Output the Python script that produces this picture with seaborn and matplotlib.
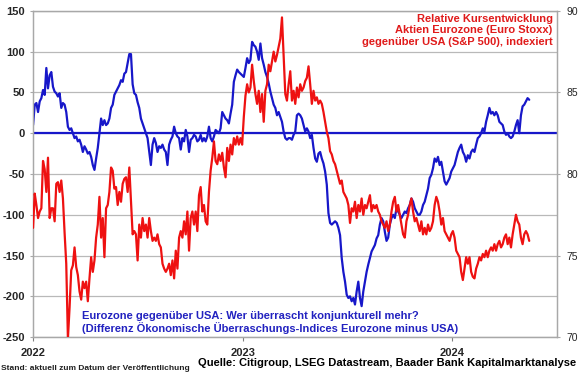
import numpy as np
import pandas as pd
import matplotlib
matplotlib.use("Agg")
import matplotlib.pyplot as plt
import seaborn as sns

sns.set_theme(style="white")
plt.rcParams["font.family"] = ["Liberation Sans", "DejaVu Sans"]

# ---------------- data ----------------
start_date = "2022-01-01"
end_date = "2024-05-14"

# Economic surprise index difference Eurozone minus USA (left axis)
surprise_diff = [
    10, 35, 37, 26, 39, 43, 53, 47, 80, 55,
    71, 75, 57, 51, 49, 45, 49, 31, 37, 35,
    26, 8, 4, 6, 0, -6, -4, -10, -8, -14,
    -23, -16, -20, -25, -23, -29, -39, -45, -31, -18,
    0, 18, 10, 16, 10, 12, 18, 31, 35, 47,
    51, 55, 59, 65, 63, 73, 75, 86, 97, 97,
    60, 49, 47, 38, 31, 18, 12, 6, 0, -6,
    -23, -39, -14, -6, -12, -23, -16,
    -18, -14, -20, -23, -39, -14, -8, -4, 8, 0,
    -4, -6, -20, -6, -10, 4, -4, -23, -8, -6,
    -2, -4, -10, -8, -2, -10, -6, -10, -4, 8,
    -6, -10, -4, 4, 2, 0, 6, 26, 22, 18,
    16, 12, 24, 35, 63, 71, 78, 75, 73, 71,
    69, 80, 92, 86, 90, 112, 108, 106, 100, 90,
    110, 92, 84, 75, 69, 61, 51, 43, 35, 31,
    22, 26, 20, 14, 2, -6, -8, -6,
    -6, -8, -2, 2, 22, 24, 22, 18, 10, 2,
    6, 2, -6, -2, -18, -31, -35, -25, -23, -31,
    -37, -47, -63, -98, -110, -112, -110, -108, -110, -116,
    -125, -153, -170, -182, -198, -202, -200, -206, -202, -210,
    -194, -182, -202, -212, -194, -182, -170, -161, -153, -145,
    -141, -137, -129, -125, -112, -104, -108, -121, -132, -128,
    -112, -104, -100, -104, -92, -96, -100, -104, -100, -96,
    -98, -92, -88, -80, -84, -92, -96, -100,
    -100, -96, -88, -84, -76, -68, -55, -51, -43, -31,
    -35, -29, -39, -35, -47, -59, -63, -59, -55, -47,
    -43, -39, -31, -23, -18, -14, -23, -27, -35, -27,
    -31, -23, -20, -23, -14, -6, -4, 0, 6, 2,
    14, 22, 31, 24, 26, 22, 26, 22, 14, 12,
    10, 2, -2, 0, -4, -6, -4, 2, 10, 16,
    0, 22, 33, 35, 39, 43, 41,
]

# Relative performance Euro Stoxx vs S&P 500, indexed (right axis)
rel_perf = [
    76.7, 78.8, 78.1, 77.3, 77.7, 77.9, 80.8, 80.3, 78.9, 81.0,
    77.3, 77.9, 77.9, 77.1, 79.4, 79.5, 78.9, 79.6, 78.5, 76.4,
    74.5, 69.9, 71.8, 74.1, 74.4, 75.5, 74.3, 73.8, 72.8, 72.3,
    73.4, 73.0, 73.4, 72.2, 73.6, 74.9, 74.0, 74.7, 76.1, 76.9,
    78.6, 76.1, 77.3, 74.9, 77.9, 78.1, 78.9, 80.4, 80.2, 79.1,
    79.2, 78.1, 78.9, 78.3, 79.4, 79.7, 79.8, 78.9, 80.4, 78.3,
    76.3, 76.5, 76.3, 74.7, 76.9, 76.1, 77.3, 76.5, 76.9, 76.1,
    77.3, 76.5, 75.9, 76.1, 75.9, 76.3, 75.7,
    75.5, 74.5, 74.2, 74.0, 74.2, 74.5, 73.8, 74.7, 73.6, 75.3,
    74.2, 76.1, 76.5, 76.1, 77.1, 76.3, 77.7, 75.3, 77.3, 77.7,
    76.9, 77.7, 76.5, 78.7, 79.2, 77.7, 78.1, 77.1, 76.9, 78.9,
    80.2, 81.0, 82.0, 80.8, 80.6, 81.2, 80.8, 81.3, 80.4, 79.8,
    81.6, 80.8, 81.8, 81.2, 82.2, 81.8, 82.3, 81.8, 82.2, 81.8,
    83.5, 84.8, 85.5, 85.0, 85.3, 86.7, 85.7, 84.9, 84.3, 85.1,
    83.8, 84.9, 83.2, 85.1, 85.5, 86.7, 86.3, 86.9, 87.5, 86.9,
    87.3, 87.8, 88.3, 89.6, 87.3, 84.9, 84.5, 85.5,
    86.3, 84.5, 85.1, 84.3, 85.3, 84.7, 85.5, 85.1, 85.3, 85.7,
    85.9, 86.6, 85.5, 84.3, 85.1, 84.5, 84.7, 84.3, 84.5, 84.3,
    83.8, 83.2, 82.6, 82.2, 81.4, 81.2, 80.8, 80.6, 80.2, 79.8,
    79.4, 79.6, 78.9, 78.7, 78.5, 78.1, 77.0, 77.9, 77.7, 78.3,
    77.3, 78.1, 77.7, 78.5, 77.5, 78.1, 77.9, 78.3, 78.7, 77.7,
    78.1, 77.9, 78.1, 77.7, 77.5, 77.1, 76.9, 76.7, 77.1, 76.5,
    76.9, 77.7, 78.3, 78.6, 77.7, 78.1, 77.5, 76.9, 76.3, 76.1,
    77.1, 77.5, 78.1, 78.5, 77.7, 77.1, 77.3, 76.9,
    76.5, 77.1, 76.3, 76.7, 76.3, 76.9, 76.5, 76.7, 77.1, 78.1,
    78.6, 78.3, 77.7, 76.9, 77.3, 76.5, 76.3, 76.1, 75.9, 76.3,
    76.5, 76.1, 75.3, 75.1, 74.9, 74.0, 73.5, 74.2, 74.9, 74.5,
    74.9, 74.0, 73.7, 73.6, 74.2, 74.5, 74.9, 74.7, 75.1, 74.9,
    75.3, 74.9, 75.3, 75.5, 75.3, 75.7, 75.3, 75.7, 75.9, 75.5,
    75.7, 76.1, 76.3, 75.7, 76.1, 75.5, 76.3, 76.9, 77.5, 77.1,
    76.9, 76.1, 75.7, 76.3, 76.5, 76.3, 75.9,
]

year_ticks = ["2022-01-01", "2023-01-01", "2024-01-01"]
year_labels = ["2022", "2023", "2024"]
left_ticks = [-250, -200, -150, -100, -50, 0, 50, 100, 150]
right_ticks = [70, 75, 80, 85, 90]
x_range = ["2022-01-01", "2024-07-01"]

red_title = "Relative Kursentwicklung\nAktien Eurozone (Euro Stoxx)\ngegenüber USA (S&P 500), indexiert"
blue_title = ("Eurozone gegenüber USA: Wer überrascht konjunkturell mehr?\n"
              "(Differenz Ökonomische Überraschungs-Indices Eurozone minus USA)")
source_text = "Quelle: Citigroup, LSEG Datastream, Baader Bank Kapitalmarktanalyse"
stand_text = "Stand: aktuell zum Datum der Veröffentlichung"

BLUE = "#1717c9"
RED = "#ee1111"
GRID = "#b9b9b9"

df_blue = pd.DataFrame({
    "date": pd.date_range(start_date, end_date, periods=len(surprise_diff)),
    "value": surprise_diff,
})
df_red = pd.DataFrame({
    "date": pd.date_range(start_date, end_date, periods=len(rel_perf)),
    "value": rel_perf,
})

# ---------------- figure ----------------
fig = plt.figure(figsize=(5.8, 3.75), dpi=100)
ax = fig.add_axes([0.057, 0.101, 0.903, 0.870])
ax2 = ax.twinx()

ax.axhline(0, color=BLUE, lw=1.6, zorder=2)
sns.lineplot(data=df_blue, x="date", y="value", ax=ax, color=BLUE, lw=1.6, zorder=3)
sns.lineplot(data=df_red, x="date", y="value", ax=ax2, color=RED, lw=1.6, zorder=3)

ax.set_ylim(left_ticks[0], left_ticks[-1])
ax2.set_ylim(right_ticks[0], right_ticks[-1])
ax.set_xlim(pd.to_datetime(x_range[0]), pd.to_datetime(x_range[1]))

ax.set_yticks(left_ticks)
ax.set_yticklabels([str(t) for t in left_ticks], fontsize=8, fontweight="bold")
ax2.set_yticks(right_ticks)
ax2.set_yticklabels([str(t) for t in right_ticks], fontsize=7.5)
ax.set_xticks(pd.to_datetime(year_ticks))
ax.set_xticklabels(year_labels, fontsize=8, fontweight="bold")

ax.grid(axis="y", color=GRID, lw=0.9, zorder=0)
ax.grid(axis="x", visible=False)
ax2.grid(False)
for a in (ax, ax2):
    a.set_xlabel("")
    a.set_ylabel("")
    for s in a.spines.values():
        s.set_color("#a8a8a8")
        s.set_linewidth(0.9)
ax.tick_params(axis="y", length=2, width=0.8, color="#a8a8a8", pad=4, left=True)
ax2.tick_params(axis="y", length=2, width=0.8, color="#a8a8a8", pad=5, right=True)
ax.tick_params(axis="x", length=3, width=0.8, color="#808080", pad=4.5, bottom=True)

ax.text(0.992, 0.990, red_title, transform=ax.transAxes, ha="right", va="top",
        fontsize=8, fontweight="bold", color="#e01b1b", linespacing=1.15, zorder=5)
ax.text(0.0935, 0.010, blue_title, transform=ax.transAxes, ha="left", va="bottom",
        fontsize=8, fontweight="bold", color="#2222c0", linespacing=1.1, zorder=5)

fig.text(0.002, 1 - 368 / 375, stand_text, fontsize=6, fontweight="bold",
         ha="left", va="center", color="#202020")
fig.text(198 / 580, 1 - 363 / 375, source_text, fontsize=8, fontweight="bold",
         ha="left", va="center", color="black")

fig.savefig("out.png", dpi=100)
